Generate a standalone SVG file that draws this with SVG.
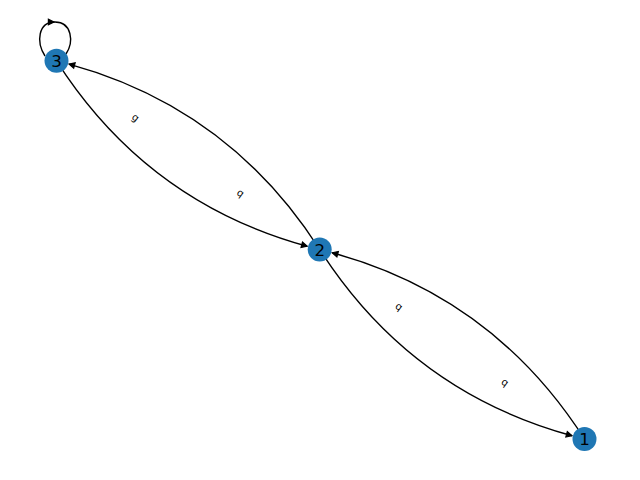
<svg xmlns="http://www.w3.org/2000/svg" width="640" height="480" viewBox="0 0 640 480">
<style>
.edge{fill:none;stroke:#000;stroke-width:1.39}
.node circle{fill:#1f77b4}
.node text{font-family:"DejaVu Sans",sans-serif;font-size:16.7px;fill:#000;text-anchor:middle;dominant-baseline:central}
.elabel{font-family:"DejaVu Sans",sans-serif;font-size:10px;fill:#000;text-anchor:middle;dominant-baseline:central}
</style>
<defs>
<marker id="arr" markerUnits="userSpaceOnUse" viewBox="-8 -5 10 10" refX="0" refY="0" markerWidth="10" markerHeight="10" orient="auto">
<path d="M0,0 L-5.6,-2.8 L-5.6,2.8 Z" fill="#000" stroke="#000" stroke-width="1.2" stroke-linejoin="miter"/>
</marker>
</defs>
<rect width="640" height="480" fill="#fff"/>
<g id="edges">
<path class="edge" d="M56.5,60.8 Q146.86,202.31 307.17,246.24" marker-end="url(#arr)"/>
<path class="edge" d="M319.7,249.5 Q229.34,107.99 69.03,64.06" marker-end="url(#arr)"/>
<path class="edge" d="M319.7,249.5 Q410.7,391.73 571.98,435.76" marker-end="url(#arr)"/>
<path class="edge" d="M584.5,439 Q493.5,296.77 332.22,252.75" marker-end="url(#arr)"/>
<path class="edge" d="M45,56 C36,42 38,22 55,22 C72,22 74,42 66,54"/>
<path d="M54,22 L48.4,19.2 L48.4,24.8 Z" fill="#000" stroke="#000" stroke-width="1.2"/>
</g>
<g id="edge-labels">
<text class="elabel" transform="translate(135.5,117.4) rotate(35.6)">g</text>
<text class="elabel" transform="translate(240.7,192.9) rotate(35.6)">q</text>
<text class="elabel" transform="translate(399.1,306.4) rotate(35.6)">q</text>
<text class="elabel" transform="translate(505.1,382.2) rotate(35.6)">q</text>
</g>
<g id="node-1" class="node"><circle cx="584.5" cy="439" r="12"/><text x="584.5" y="439">1</text></g>
<g id="node-2" class="node"><circle cx="319.7" cy="249.5" r="12"/><text x="319.7" y="249.5">2</text></g>
<g id="node-3" class="node"><circle cx="56.5" cy="60.8" r="12"/><text x="56.5" y="60.8">3</text></g>
</svg>
